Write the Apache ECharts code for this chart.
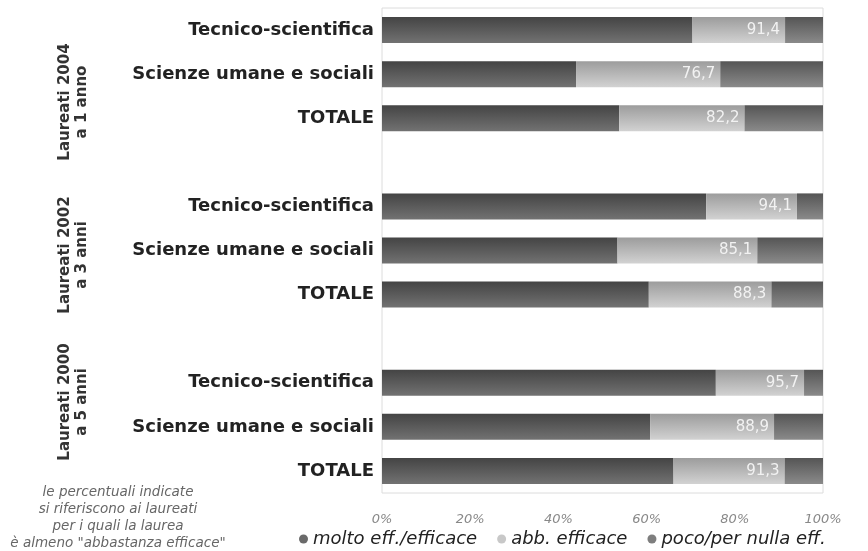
<!DOCTYPE html>
<html>
<head>
<meta charset="utf-8">
<script src="https://cdn.jsdelivr.net/npm/echarts@6/dist/echarts.min.js"></script>
<style>
	html, body { margin: 0; padding: 0; background: #fff; }
	#main { width: 868px; height: 551px; }
</style>
</head>
<body>
<div id="main"></div>
<script>
// righe del grafico, dall'alto; '' = riga vuota tra i gruppi
var categorie = [
	'Tecnico-scientifica', 'Scienze umane e sociali', 'TOTALE', '',
	'Tecnico-scientifica', 'Scienze umane e sociali', 'TOTALE', '',
	'Tecnico-scientifica', 'Scienze umane e sociali', 'TOTALE'
];
var gruppi = ['Laureati 2004\na 1 anno', 'Laureati 2002\na 3 anni', 'Laureati 2000\na 5 anni'];

var molto = [70.4, 44.0, 53.8, null, 73.5, 53.4, 60.5, null, 75.7, 60.8, 66.1];
var abb = [21.0, 32.7, 28.4, null, 20.6, 31.7, 27.8, null, 20.0, 28.1, 25.2];
var poco = [8.6, 23.3, 17.8, null, 5.9, 14.9, 11.7, null, 4.3, 11.1, 8.7];
// percentuale "almeno abbastanza efficace" scritta sulle barre
var totale = [91.4, 76.7, 82.2, null, 94.1, 85.1, 88.3, null, 95.7, 88.9, 91.3];

var tickX = [0, 20, 40, 60, 80, 100];
var nomiSerie = ['molto eff./efficace', 'abb. efficace', 'poco/per nulla eff.'];

var nota = 'le percentuali indicate\nsi riferiscono ai laureati\nper i quali la laurea\nè almeno "abbastanza efficace"';

function grad(c1, c2) {
	return new echarts.graphic.LinearGradient(0, 0, 0, 1, [
		{ offset: 0, color: c1 },
		{ offset: 1, color: c2 }
	]);
}

function gruppoLabel(testo, y) { // etichetta verticale del gruppo
	return {
		type: 'text',
		x: 74,
		y: y,
		rotation: Math.PI / 2,
		style: {
			text: testo,
			align: 'center',
			verticalAlign: 'middle',
			font: 'bold 15px "DejaVu Sans"',
			lineHeight: 17,
			fill: '#333'
		}
	};
}

var myChart = echarts.init(document.getElementById('main'));

var option = {
	animation: false,
	backgroundColor: '#fff',
	grid: {
		left: 382,
		right: 45,
		top: 8,
		bottom: 58,
		show: true,
		borderColor: '#dcdcdc',
		borderWidth: 1
	},
	legend: {
		bottom: -2,
		left: 294,
		itemGap: 20,
		itemWidth: 9,
		itemHeight: 9,
		icon: 'circle',
		textStyle: {
			fontFamily: 'DejaVu Sans',
			fontStyle: 'italic',
			fontSize: 18,
			color: '#222'
		},
		data: [
			{ name: nomiSerie[0], itemStyle: { color: '#6a6a6a' } },
			{ name: nomiSerie[1], itemStyle: { color: '#c8c8c8' } },
			{ name: nomiSerie[2], itemStyle: { color: '#7e7e7e' } }
		]
	},
	xAxis: {
		type: 'value',
		min: 0,
		max: 100,
		interval: 20,
		axisLine: { show: false },
		axisTick: { show: false },
		splitLine: { show: false },
		axisLabel: {
			margin: 20,
			fontFamily: 'DejaVu Sans',
			fontStyle: 'italic',
			fontSize: 13,
			color: '#888',
			formatter: function(v) {
				return tickX.indexOf(v) >= 0 ? v + '%' : '';
			}
		}
	},
	yAxis: {
		type: 'category',
		inverse: true,
		data: categorie,
		axisLine: { show: false },
		axisTick: { show: false },
		axisLabel: {
			margin: 8,
			fontFamily: 'DejaVu Sans',
			fontWeight: 'bold',
			fontSize: 18,
			color: '#222'
		}
	},
	series: [{
		name: nomiSerie[0],
		type: 'bar',
		stack: 'tot',
		barWidth: '59%',
		itemStyle: { color: grad('#444444', '#727272') },
		data: molto
	}, {
		name: nomiSerie[1],
		type: 'bar',
		stack: 'tot',
		itemStyle: { color: grad('#9c9c9c', '#d2d2d2') },
		label: {
			show: true,
			position: 'insideRight',
			distance: 5,
			fontFamily: 'DejaVu Sans',
			fontSize: 15,
			color: '#f2f2f2',
			formatter: function(p) {
				var t = totale[p.dataIndex];
				return t == null ? '' : t.toFixed(1).replace('.', ',');
			}
		},
		data: abb
	}, {
		name: nomiSerie[2],
		type: 'bar',
		stack: 'tot',
		itemStyle: { color: grad('#555555', '#8a8a8a') },
		data: poco
	}],
	graphic: [
		gruppoLabel(gruppi[0], 102),
		gruppoLabel(gruppi[1], 255),
		gruppoLabel(gruppi[2], 402),
		{
			type: 'text',
			x: 118,
			y: 518,
			style: {
				text: nota,
				align: 'center',
				verticalAlign: 'middle',
				font: 'italic 13.5px "DejaVu Sans"',
				lineHeight: 16.7,
				fill: '#666'
			}
		}
	]
};

myChart.setOption(option, true);
window.onresize = function() {
	myChart.resize();
};
</script>
</body>
</html>
